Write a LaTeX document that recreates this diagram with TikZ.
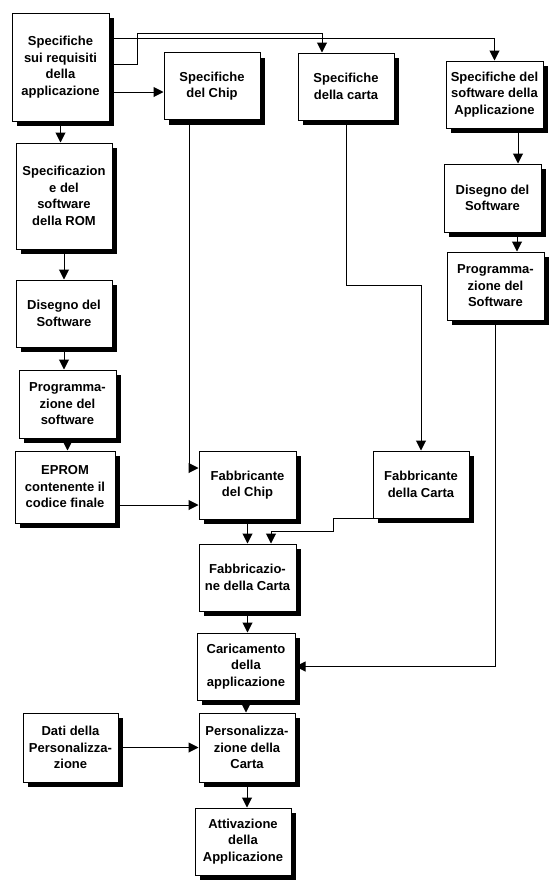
\documentclass[tikz,border=0pt]{standalone}
\usepackage{fontspec}
\setmainfont{Liberation Sans}
\usetikzlibrary{arrows.meta,shadows}

\begin{document}
\begin{tikzpicture}[
  x=1pt, y=-1pt,
  font=\bfseries\fontsize{13}{16.5}\selectfont,
  box/.style={draw, fill=white, line width=1pt, align=center, inner sep=1pt,
    minimum width=96pt, minimum height=67pt,
    drop shadow={shadow xshift=5pt, shadow yshift=-5pt, opacity=1, fill=black}},
  arr/.style={line width=1pt, -{Triangle[length=10pt,width=10pt]}}
]
\useasboundingbox (0,0) rectangle (554,887);
% top row
\node[box, minimum width=97pt, minimum height=108pt] (specApp) at (60.5,67) {Specifiche\\sui requisiti\\della\\applicazione};
\node[box] (specChip) at (212,86) {Specifiche\\del Chip};
\node[box] (specCarta) at (346,86.5) {Specifiche\\della carta};
\node[box, minimum width=97pt] (specSwApp) at (494.5,94.5) {Specifiche del\\software della\\Applicazione};
% left column
\node[box, minimum height=106pt] (specRom) at (64,196) {Specificazion\\e del\\software\\della ROM};
\node[box] (disegnoRom) at (64,313.5) {Disegno del\\Software};
\node[box, minimum width=97pt, minimum height=68pt] (progRom) at (67.5,404) {Programma-\\zione del\\software};
\node[box, minimum width=100pt, minimum height=72pt] (eprom) at (65,487) {EPROM\\contenente il\\codice finale};
% right column
\node[box, minimum width=97pt, minimum height=68pt] (disegnoApp) at (492.5,198) {Disegno del\\Software};
\node[box, minimum width=97pt, minimum height=68pt] (progApp) at (495.5,286) {Programma-\\zione del\\Software};
% middle column
\node[box, minimum width=97pt, minimum height=68pt] (fabChip) at (247.5,485) {Fabbricante\\del Chip};
\node[box] (fabCarta) at (421,484.5) {Fabbricante\\della Carta};
\node[box, minimum width=97pt] (fabbricazione) at (247.5,577.5) {Fabbricazio-\\ne della Carta};
\node[box, minimum width=98pt] (caricamento) at (246,666.5) {Caricamento\\della\\applicazione};
\node[box, minimum height=69pt] (personalizzazione) at (247,747.5) {Personalizza-\\zione della\\Carta};
\node[box, minimum width=95pt, minimum height=69pt] (dati) at (70.5,747.5) {Dati della\\Personalizza-\\zione};
\node[box] (attivazione) at (243,841.5) {Attivazione\\della\\Applicazione};
% connectors
\draw[arr] ([yshift=-25pt]specApp.east) -- ([yshift=-6pt]specChip.west);
\draw[arr] ([yshift=29pt]specApp.east) -| (specSwApp.north);
\draw[arr] ([yshift=3pt]specApp.east) -- ++(28,0) |- ([xshift=-24pt,yshift=19pt]specCarta.north) -- ([xshift=-24pt]specCarta.north);
\draw[arr] (specApp.south) -- (specApp.south |- specRom.north);
\draw[arr] (specRom.south) -- (disegnoRom.north);
\draw[arr] (disegnoRom.south) -- (disegnoRom.south |- progRom.north);
\draw[arr] (progRom.south) -- (progRom.south |- eprom.north);
\draw[arr] ([yshift=-18pt]eprom.east) -- ([yshift=-20pt]fabChip.west);
\draw[arr] ([xshift=-23pt]specChip.south) |- ([yshift=17pt]fabChip.west);
\draw[arr] (specCarta.south) -- ++(0,165) -| (fabCarta.north);
\draw[arr] ([xshift=23.5pt]specSwApp.south) -- ([xshift=25.5pt]disegnoApp.north);
\draw[arr] ([xshift=24.5pt]disegnoApp.south) -- ([xshift=21.5pt]progApp.north);
\draw[arr] (fabChip.south) -- (fabbricazione.north);
\draw[arr] (fabCarta.south west) -- ++(-39,0) -- ++(0,13) -| ([xshift=23.5pt]fabbricazione.north);
\draw[arr] (fabbricazione.south) -- (fabbricazione.south |- caricamento.north);
\draw[arr] (progApp.south) |- (caricamento.east);
\draw[arr] (caricamento.south) -- (caricamento.south |- personalizzazione.north);
\draw[arr] (dati.east) -- (personalizzazione.west);
\draw[arr] (personalizzazione.south) -- (personalizzazione.south |- attivazione.north);
\end{tikzpicture}
\end{document}
